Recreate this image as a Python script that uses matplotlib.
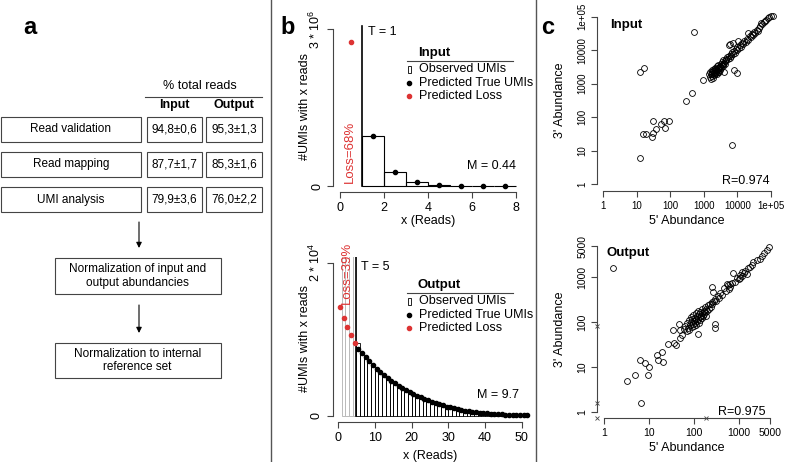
import matplotlib
matplotlib.use('Agg')
import matplotlib.pyplot as plt
from matplotlib.patches import Rectangle
import numpy as np

plt.rcParams['font.family'] = ['Liberation Sans', 'DejaVu Sans']
plt.rcParams['mathtext.fontset'] = 'custom'
plt.rcParams['mathtext.rm'] = 'Liberation Sans'
plt.rcParams['mathtext.default'] = 'regular'

W, H = 786, 462
RED = '#dd3333'
AXC = '#444444'

# ---------------- panel a: pipeline ----------------
steps = ['Read validation', 'Read mapping', 'UMI analysis']
input_pct = ['94,8±0,6', '87,7±1,7', '79,9±3,6']
output_pct = ['95,3±1,3', '85,3±1,6', '76,0±2,2']
norm_steps = ['Normalization of input and\noutput abundancies',
              'Normalization to internal\nreference set']

# ---------------- panel b: UMI read distributions ----------------
# input sample (top)
in_obs_left = [1, 2, 3, 4, 5, 6, 7]
in_obs = [0.96e6, 0.26e6, 0.07e6, 0.022e6, 0.006e6, 0.0018e6, 0.0005e6]
in_pred_x = [1.5, 2.5, 3.5, 4.5, 5.5, 6.5, 7.5]
in_pred = [0.96e6, 0.26e6, 0.07e6, 0.024e6, 0.006e6, 0.002e6, 0.0005e6]
in_loss_x = [0.5]
in_loss = [2.76e6]
in_T = 1

# output sample (bottom)
out_low_left = [1, 2, 3, 4]                 # below threshold, clipped at the top
out_low = [52000, 38000, 29000, 23000]
out_obs = [9500, 8300, 7700, 7150, 6650, 6150, 5780, 5330, 4990, 4600,
           4300, 3950, 3680, 3370, 3130, 2860, 2650, 2410, 2220, 2010,
           1850, 1660, 1520, 1360, 1240, 1100, 1000, 885, 800, 700,
           630, 550, 495, 425, 385, 330, 300, 255, 230, 195,
           175, 150, 135, 112, 102, 85, 78]
out_pred = [8800, 8200, 7650, 7130, 6640, 6180, 5750, 5350, 4970, 4610,
            4280, 3960, 3660, 3380, 3120, 2870, 2640, 2420, 2210, 2020,
            1840, 1670, 1510, 1370, 1230, 1110, 995, 890, 795, 705,
            625, 555, 490, 430, 380, 335, 295, 258, 226, 198,
            173, 151, 132, 115, 100, 87, 76]
out_loss_x = [0.5, 1.5, 2.5, 3.5, 4.5]
out_loss = [14250, 12730, 11650, 10560, 9560]
out_T = 5

# ---------------- panel c: 5' vs 3' abundance ----------------
in_5p = [490, 12.4, 16, 910, 455, 295, 12.4, 15, 19, 28, 31, 31, 38, 51, 65, 68, 93,
         6800, 8100, 10000,
         1400, 1500, 1500, 1600, 1600, 1700, 1700, 1800, 1800, 1900, 1900, 2000, 2000,
         2000, 2100, 2100, 2200, 2200, 2300, 2300, 2400, 2400, 2500, 2500, 2600, 2600,
         2700, 2700, 2800, 2800, 2900, 3000, 3000, 3100, 3200, 3300, 3400, 3500, 3600,
         3700, 3800, 4000, 4000, 4200, 4400, 4500, 4700, 5000, 5200, 5500, 5600, 6000,
         6000, 6300, 6600, 7000, 7400, 7500, 8000, 8500, 9000, 9500, 10000, 10500,
         11000, 12000, 13000, 14000, 15000, 16000, 17500, 19000, 20000, 21000, 23000,
         25000, 27000, 29000, 31000, 34000, 37000, 40000, 43000, 47000, 50000, 55000,
         60000, 65000, 72000, 80000, 90000, 100000, 115000]
in_3p = [34600, 2300, 2900, 1300, 520, 310, 6.2, 31, 31, 25, 35, 80, 44, 65, 80, 49, 76,
         15, 2600, 2100,
         2000, 1600, 2300, 1400, 1900, 2200, 2600, 1700, 2000, 2400, 1500, 2100, 2700,
         1800, 2300, 3000, 1900, 2500, 2100, 2800, 2400, 3300, 2000, 2600, 3000, 2300,
         2700, 3600, 2200, 3100, 2900, 3500, 2500, 3200, 4000, 2900, 3600, 4400, 3300,
         3900, 5000, 4300, 2300, 4700, 3900, 5600, 5000, 6200, 5400, 14500, 6800, 15500,
         5800, 7500, 6600, 9000, 16000, 7800, 9500, 8200, 11000, 10000, 12500, 19000,
         11500, 14000, 12500, 16000, 15000, 18500, 17000, 22000, 33000, 20000, 26000,
         24000, 30000, 28000, 35000, 33000, 40000, 38000, 47000, 52000, 65000, 60000,
         68000, 72000, 78000, 90000, 100000, 105000, 105000]

out_5p = [1.6, 3.3, 5, 6.3, 6.6, 8.3, 9.8, 9.7, 15, 16, 19.5, 21, 27, 36, 40, 35, 48,
          50, 50, 54, 126, 300, 300, 253, 275,
          60, 65, 70, 72, 75, 78, 80, 82, 85, 88, 90, 92, 95, 98, 100, 100, 105, 108,
          110, 112, 115, 118, 120, 122, 125, 128, 130, 135, 138, 140, 145, 150, 150,
          155, 160, 165, 170, 175, 180, 185, 190, 200, 210, 220, 230, 240, 250, 260,
          280, 300, 320, 340, 360, 390, 420, 480, 520, 550, 600, 650, 590, 640, 710,
          760, 840, 900, 1000, 1090, 1100, 1180, 1200, 1300, 1400, 1500, 1600, 1800,
          2000, 2140, 2570, 3020, 3300, 3630, 4270, 4680]
out_3p = [1590, 4.8, 6.5, 14, 1.6, 12, 10, 6.5, 18.6, 14, 21, 13, 32, 34, 31, 65, 91,
          67, 44, 52, 54, 91, 73, 620, 480,
          70, 80, 62, 95, 75, 110, 68, 88, 100, 130, 78, 115, 92, 145, 105, 80, 125, 95,
          160, 115, 85, 135, 105, 175, 120, 150, 95, 130, 165, 110, 140, 200, 125,
          160, 135, 180, 150, 215, 170, 140, 200, 180, 240, 200, 260, 220, 280, 250,
          300, 330, 290, 380, 350, 440, 400, 570, 500, 720, 560, 700, 670, 600, 740,
          1260, 800, 980, 900, 950, 1150, 1340, 1050, 1250, 1400, 1200, 1650, 1700,
          1860, 2240, 2450, 2630, 3000, 3470, 4070, 4790]
# points with a zero value, drawn as x on the axis edge
out_zero5_3p = [80, 1.6]      # 5' zero
out_zero3_5p = [190]          # 3' zero


fig = plt.figure(figsize=(W / 100, H / 100), dpi=100)


def px_axes(x0, y0, x1, y1):
    return fig.add_axes([x0 / W, 1 - y1 / H, (x1 - x0) / W, (y1 - y0) / H])


def r_style(ax, xb, yb, size=9):
    for s in ['top', 'right']:
        ax.spines[s].set_visible(False)
    for s in ['left', 'bottom']:
        ax.spines[s].set_color(AXC)
        ax.spines[s].set_linewidth(0.8)
    ax.spines['bottom'].set_bounds(*xb)
    ax.spines['left'].set_bounds(*yb)
    ax.tick_params(which='major', direction='out', length=4.5, width=0.8,
                   color=AXC, labelsize=size, pad=2.5)
    ax.tick_params(which='minor', length=0)
    ax.patch.set_alpha(0)


# ---- b top
axb1 = px_axes(333, 22.7, 523, 192.3)
axb1.set_xlim(-0.32, 8.32)
axb1.set_ylim(-0.12e6, 3.12e6)
axb1.bar(in_obs_left, in_obs, width=1, align='edge', fill=False,
         edgecolor='black', lw=0.8)
axb1.plot([in_T, in_T], [0, 3.06e6], color='black', lw=1.2)
axb1.plot(in_pred_x, in_pred, 'o', color='black', ms=3)
axb1.plot(in_loss_x, in_loss, 'o', color=RED, ms=3)
axb1.text(in_T + 0.25, 2.94e6, 'T = 1', fontsize=9, va='center')
axb1.text(0.45, 0.06e6, 'Loss=68%', color=RED, fontsize=9.5, rotation=90,
          ha='center', va='bottom')
axb1.text(8.0, 0.38e6, 'M = 0.44', fontsize=9, ha='right', va='center')
axb1.set_xticks([0, 2, 4, 6, 8])
axb1.set_yticks([0, 3e6], ['0', r'3 * 10$^6$'], rotation=90, va='center')
r_style(axb1, (0, 8), (0, 3e6))

# ---- b bottom
axb2 = px_axes(332.7, 256.6, 531.5, 422.1)
axb2.set_xlim(-1.45, 52.6)
axb2.set_ylim(-800, 20800)
axb2.bar(out_low_left, out_low, width=1, align='edge', fill=False,
         edgecolor='#bbbbbb', lw=0.7)
obs_left = np.arange(out_T, out_T + len(out_obs))
axb2.bar(obs_left, out_obs, width=1, align='edge', fill=False,
         edgecolor='black', lw=0.6)
axb2.plot([out_T, out_T], [0, 20800], color='black', lw=1.2)
axb2.plot(obs_left + 0.5, out_pred, 'o', color='black', ms=3)
axb2.plot(out_loss_x, out_loss, 'o', color=RED, ms=3)
axb2.text(out_T + 1.3, 19500, 'T = 5', fontsize=9, va='center')
axb2.text(2.5, 14600, 'Loss=39%', color=RED, fontsize=9.5, rotation=90,
          ha='center', va='bottom')
axb2.text(49.3, 2800, 'M = 9.7', fontsize=9, ha='right', va='center')
axb2.set_xticks([0, 10, 20, 30, 40, 50])
axb2.set_yticks([0, 2e4], ['0', r'2 * 10$^4$'], rotation=90, va='center')
r_style(axb2, (0, 50), (0, 2e4))

# ---- c top
axc1 = px_axes(596.6, 10, 777.7, 191)
axc1.set_xscale('log')
axc1.set_yscale('log')
axc1.set_xlim(10 ** -0.2, 10 ** 5.2)
axc1.set_ylim(10 ** -0.2, 10 ** 5.2)
axc1.plot(in_5p, in_3p, 'o', mfc='none', mec='black', ms=4.2, mew=0.6)
c1_ticks = [1, 10, 100, 1000, 10000, 100000]
c1_labels = ['1', '10', '100', '1000', '10000', '1e+05']
axc1.set_xticks(c1_ticks, c1_labels)
axc1.set_yticks(c1_ticks, c1_labels, rotation=90, va='center')
axc1.text(10 ** 0.2, 10 ** 4.75, 'Input', fontsize=9.5, fontweight='bold',
          va='center')
axc1.text(10 ** 4.95, 10 ** 0.1, 'R=0.974', fontsize=9, ha='right', va='center')
r_style(axc1, (1, 1e5), (1, 1e5), size=7)

# ---- c bottom
axc2 = px_axes(597.4, 239.4, 776.6, 418.3)
axc2.set_xscale('log')
axc2.set_yscale('log')
lo, hi = 10 ** -0.148, 10 ** 3.847
axc2.set_xlim(lo, hi)
axc2.set_ylim(lo, hi)
axc2.plot(out_5p, out_3p, 'o', mfc='none', mec='black', ms=4.2, mew=0.6)
axc2.plot([lo] * len(out_zero5_3p), out_zero5_3p, 'x', color=AXC, ms=3.5,
          mew=0.6, clip_on=False)
axc2.plot(out_zero3_5p, [lo] * len(out_zero3_5p), 'x', color=AXC, ms=3.5,
          mew=0.6, clip_on=False)
axc2.plot([lo], [lo], 'x', color=AXC, ms=3.5, mew=0.6, clip_on=False)
c2_ticks = [1, 10, 100, 1000, 5000]
c2_labels = ['1', '10', '100', '1000', '5000']
axc2.set_xticks(c2_ticks, c2_labels)
axc2.set_yticks(c2_ticks, c2_labels, rotation=90, va='center')
axc2.text(10 ** 0.05, 10 ** 3.55, 'Output', fontsize=9.5, fontweight='bold',
          va='center')
axc2.text(10 ** 3.6, 10 ** 0.0, 'R=0.975', fontsize=9, ha='right', va='center')
r_style(axc2, (1, 5000), (1, 5000), size=7.5)

# ---------------- overlay in pixel coordinates ----------------
ov = fig.add_axes([0, 0, 1, 1])
ov.set_xlim(0, W)
ov.set_ylim(H, 0)
ov.axis('off')

# separators
for xs in [271, 536]:
    ov.plot([xs, xs], [0, H], color='#555555', lw=1)

# panel letters
for lx, lab in [(30, 'a'), (288, 'b'), (548, 'c')]:
    ov.text(lx, 28, lab, fontsize=17, fontweight='bold', ha='center', va='center')

# panel a table
ov.text(200, 86, '% total reads', fontsize=9, ha='center', va='center')
ov.plot([145, 262], [97, 97], color='#444444', lw=0.8)
ov.text(174, 105, 'Input', fontsize=9, fontweight='bold', ha='center', va='center')
ov.text(234, 105, 'Output', fontsize=9, fontweight='bold', ha='center', va='center')
row_top = [117, 152, 187]
for i, y0 in enumerate(row_top):
    for (x0, x1, txt) in [(0.5, 141, steps[i]), (147.3, 201.7, input_pct[i]),
                          (206.3, 262, output_pct[i])]:
        ov.add_patch(Rectangle((x0, y0), x1 - x0, 25, fill=False,
                               edgecolor='#444444', lw=0.8))
        ov.text((x0 + x1) / 2, y0 + 12.5, txt, fontsize=8.5, ha='center',
                va='center')

arrow_kw = dict(arrowstyle='-|>', color='black', lw=0.8, mutation_scale=8,
                shrinkA=0, shrinkB=0)
ov.annotate('', xy=(139, 248), xytext=(139, 222), arrowprops=arrow_kw)
ov.annotate('', xy=(139, 333), xytext=(139, 305), arrowprops=arrow_kw)
for (y0, y1), txt in zip([(258, 294), (343, 378)], norm_steps):
    ov.add_patch(Rectangle((54.5, y0), 166, y1 - y0, fill=False,
                           edgecolor='#444444', lw=0.8))
    ov.text(137.5, (y0 + y1) / 2, txt, fontsize=8.5, ha='center', va='center',
            linespacing=1.15)

# panel b legends and axis titles
for (ytitle, title) in [(53, 'Input'), (285, 'Output')]:
    ov.text(418, ytitle, title, fontsize=9.5, fontweight='bold', va='center')
    ov.plot([407, 513], [ytitle + 7.5, ytitle + 7.5], color='#444444', lw=0.8)
    rows = [ytitle + 16, ytitle + 29.5, ytitle + 43]
    ov.add_patch(Rectangle((407.5, rows[0] - 3.5), 3.5, 7, fill=False,
                           edgecolor='black', lw=0.6))
    ov.plot([409.3], [rows[1]], 'o', color='black', ms=3)
    ov.plot([409.3], [rows[2]], 'o', color=RED, ms=3)
    for yy, t in zip(rows, ['Observed UMIs', 'Predicted True UMIs',
                            'Predicted Loss']):
        ov.text(419, yy, t, fontsize=9, va='center')

ov.text(305, 107, '#UMIs with x reads', fontsize=9, rotation=90,
        ha='center', va='center')
ov.text(305, 339, '#UMIs with x reads', fontsize=9, rotation=90,
        ha='center', va='center')
ov.text(428, 221, 'x (Reads)', fontsize=9, ha='center', va='center')
ov.text(430, 456, 'x (Reads)', fontsize=9, ha='center', va='center')

# panel c axis titles
ov.text(560, 100, "3' Abundance", fontsize=9, rotation=90, ha='center', va='center')
ov.text(560, 329, "3' Abundance", fontsize=9, rotation=90, ha='center', va='center')
ov.text(687, 221, "5' Abundance", fontsize=9, ha='center', va='center')
ov.text(687, 448, "5' Abundance", fontsize=9, ha='center', va='center')

fig.savefig('out.png', dpi=100, facecolor='white')
